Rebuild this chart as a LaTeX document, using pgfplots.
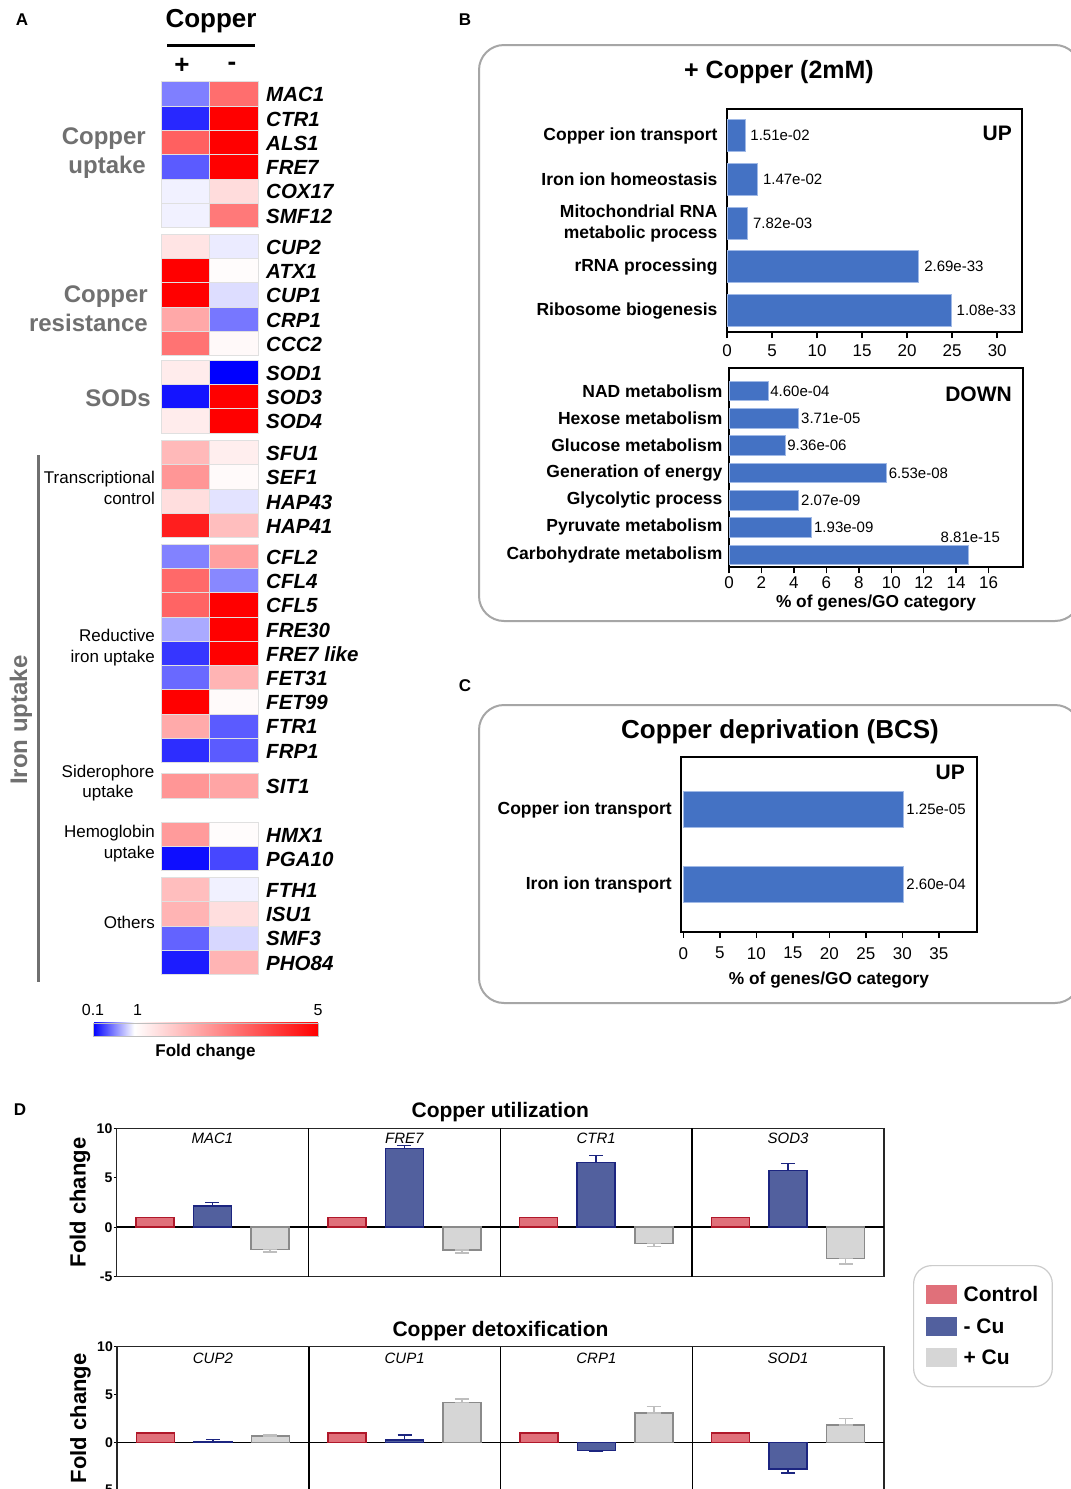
\documentclass[border=0pt]{standalone}
\usepackage{fontspec}
\setmainfont{Liberation Sans}
\usepackage{pgfplots}
\pgfplotsset{compat=1.18}
\pgfkeys{/pgf/number format/assume math mode=true}
\newcommand{\fs}[2]{\fontsize{#1}{#2}\selectfont}
\definecolor{gtxt}{RGB}{112,112,112}
\definecolor{barblue}{RGB}{68,114,196}
\definecolor{barblueE}{RGB}{160,185,230}
\definecolor{ctlF}{RGB}{224,112,122}
\definecolor{ctlD}{RGB}{176,24,42}
\definecolor{cuF}{RGB}{82,96,158}
\definecolor{cuD}{RGB}{28,37,128}
\definecolor{pcuF}{RGB}{214,214,214}
\definecolor{pcuD}{RGB}{138,138,138}
\definecolor{pcuE}{RGB}{190,190,190}
\pgfplotsset{colormap={bwr}{rgb255(0cm)=(0,0,255); rgb255(9cm)=(255,255,255); rgb255(49cm)=(255,0,0)}}
\pgfdeclareplotmark{hcell}{\pgfpathrectangle{\pgfpoint{-24.25pt}{-12.15pt}}{\pgfpoint{48.5pt}{24.3pt}}\pgfusepathqfillstroke}
\pgfplotsset{
  goaxis/.style={scale only axis, anchor=north west, xbar, bar shift=0pt, y dir=reverse,
    axis line style={line width=2pt},
    xtick pos=lower, ytick pos=left, tick align=outside, major tick length=6pt,
    tick style={line width=1.5pt, black}, ytick style={draw=none},
    yticklabel style={font=\bfseries\fs{17.5}{21}, align=right},
    xticklabel style={font=\fs{17}{20}},
    xlabel style={font=\bfseries\fs{17.3}{20}, at={(axis description cs:0.5,0)}, anchor=center},
    nodes near coords, point meta=explicit symbolic,
    nodes near coords align={horizontal},
    every node near coord/.append style={font=\fs{15}{18}, anchor=west},
  },
  gobar/.style={fill=barblue, draw=barblueE, line width=0.8pt},
  daxis/.style={scale only axis, anchor=north west, ybar, bar width=38pt, bar shift=0pt,
    xmin=0, xmax=20, ymin=-5, ymax=10, clip=false,
    xtick=\empty, ytick={-5,0,5,10}, ytick pos=left, tick align=outside, major tick length=3pt,
    tick style={line width=1.2pt, black},
    yticklabel style={font=\bfseries\fs{14}{16}, inner xsep=1pt},
    axis line style={line width=1.5pt, black!85},
    extra x ticks={5,10,15}, extra x tick labels={},
    extra x tick style={grid=major, major grid style={line width=1.5pt, black}, major tick length=0pt},
    extra y ticks={0}, extra y tick labels={},
    extra y tick style={grid=major, major grid style={line width=1.5pt, black}, major tick length=0pt},
    ylabel={Fold change},
    ylabel style={font=\bfseries\fs{22}{26}, at={(axis description cs:-0.0476,0.5)}, anchor=center},
    title style={at={(axis description cs:0.5,1)}, anchor=base, font=\bfseries\fs{21}{25}},
  },
  sw/.style={legend image code/.code={\path[##1, draw=none, sharp corners] (0pt,-9.5pt) rectangle (31pt,9.5pt);}},
  ctl/.style={fill=ctlF, draw=ctlD, line width=1.5pt, sw},
  mcu/.style={fill=cuF, draw=cuD, line width=1.5pt, sw,
    error bars/.cd, y dir=both, y explicit,
    error bar style={line width=1.5pt, cuD},
    error mark options={rotate=90, mark size=7pt, line width=1.5pt, cuD}},
  pcu/.style={fill=pcuF, draw=pcuD, line width=1.5pt, sw,
    error bars/.cd, y dir=both, y explicit,
    error bar style={line width=1.5pt, pcuE},
    error mark options={rotate=90, mark size=7pt, line width=1.5pt, pcuE}},
}
\begin{document}
\begin{tikzpicture}
\useasboundingbox (0pt,0pt) rectangle (1071pt,-1489pt);
\fill[white] (0pt,0pt) rectangle (1071pt,-1489pt);

% ---------- panel letters ----------
\node[font=\bfseries\fs{17}{20}] at (22pt,-20pt) {A};
\node[font=\bfseries\fs{17}{20}] at (465pt,-20pt) {B};
\node[font=\bfseries\fs{17}{20}] at (465pt,-686pt) {C};
\node[font=\bfseries\fs{17}{20}] at (20pt,-1110pt) {D};

% ---------- panel A ----------
\node[font=\bfseries\fs{26}{30}] at (211pt,-21pt) {Copper};
\draw[line width=3pt] (167pt,-45pt) -- (255pt,-45pt);
\node[font=\bfseries\fs{26}{30}] at (182pt,-66pt) {+};
\node[font=\bfseries\fs{26}{30}] at (232pt,-66pt) {-};

\begin{axis}[
  at={(160.7pt,-81.7pt)}, anchor=north west, scale only axis,
  width=97pt, height=892.6pt, clip=false,
  xmin=0, xmax=2, ymin=81.7, ymax=974.3, y dir=reverse,
  axis line style={draw=none}, xtick=\empty,
  ytick={93.8,118.1,142.4,166.7,190.9,215.2,246.4,270.6,294.8,319.0,343.2,372.2,396.5,420.8,452.5,476.8,501.1,525.4,556.4,580.6,604.8,629.0,653.3,677.5,701.7,725.9,750.2,785.7,834.3,858.3,889.4,913.7,937.9,962.2},
  yticklabels={MAC1,CTR1,ALS1,FRE7,COX17,SMF12,CUP2,ATX1,CUP1,CRP1,CCC2,SOD1,SOD3,SOD4,SFU1,SEF1,HAP43,HAP41,CFL2,CFL4,CFL5,FRE30,FRE7 like,FET31,FET99,FTR1,FRP1,SIT1,HMX1,PGA10,FTH1,ISU1,SMF3,PHO84},
  yticklabel pos=right, ytick style={draw=none}, major tick length=0pt,
  yticklabel style={font=\bfseries\itshape\fs{20.5}{24}, anchor=west, xshift=5pt, yshift=-1pt},
  colormap name=bwr, point meta min=0.1, point meta max=5,
  colorbar horizontal,
  colorbar style={at={(parent axis.south west)}, anchor=north west, xshift=-67.7pt, yshift=-40pt,
    scale only axis, width=225pt, height=13.3pt,
    xtick={0.1,1.07,5}, xticklabels={0.1,1,5}, xticklabel pos=upper, major tick length=0pt,
    xticklabel style={font=\fs{16}{19}, yshift=4pt},
    xlabel={Fold change}, xlabel style={at={(axis description cs:0.5,0)}, anchor=north, yshift=-4pt, font=\bfseries\fs{17}{20}},
    axis line style={draw=black!25}},
]
\addplot[scatter, only marks, mark=hcell, point meta=explicit,
  scatter/use mapped color={draw=black!12, fill=mapped color}]
  table[x=c, y=r, meta=fc] {
c r fc
0.5 93.8 0.55
1.5 93.8 3.27
0.5 118.1 0.24
1.5 118.1 5
0.5 142.4 3.5
1.5 142.4 5
0.5 166.7 0.42
1.5 166.7 5
0.5 190.9 0.95
1.5 190.9 1.55
0.5 215.2 0.95
1.5 215.2 3.1
0.5 246.4 1.42
1.5 246.4 0.93
0.5 270.6 5
1.5 270.6 1.05
0.5 294.8 5
1.5 294.8 0.88
0.5 319.0 2.36
1.5 319.0 0.52
0.5 343.2 3.2
1.5 343.2 1.1
0.5 372.2 1.3
1.5 372.2 0.1
0.5 396.5 0.17
1.5 396.5 5
0.5 420.8 1.3
1.5 420.8 5
0.5 452.5 2.1
1.5 452.5 1.27
0.5 476.8 2.65
1.5 476.8 1.08
0.5 501.1 1.52
1.5 501.1 0.9
0.5 525.4 4.53
1.5 525.4 2.02
0.5 556.4 0.56
1.5 556.4 2.49
0.5 580.6 3.35
1.5 580.6 0.58
0.5 604.8 3.43
1.5 604.8 5
0.5 629.0 0.7
1.5 629.0 5
0.5 653.3 0.29
1.5 653.3 5
0.5 677.5 0.47
1.5 677.5 2.18
0.5 701.7 5
1.5 701.7 1.08
0.5 725.9 2.33
1.5 725.9 0.42
0.5 750.2 0.26
1.5 750.2 0.42
0.5 785.7 2.65
1.5 785.7 2.41
0.5 834.3 2.57
1.5 834.3 1.05
0.5 858.3 0.15
1.5 858.3 0.35
0.5 889.4 2.02
1.5 889.4 0.95
0.5 913.7 2.18
1.5 913.7 1.52
0.5 937.9 0.45
1.5 937.9 0.86
0.5 962.2 0.2
1.5 962.2 2.18
};
\end{axis}

\node[anchor=east, align=right, font=\bfseries\fs{24}{29}, text=gtxt, inner sep=0pt] at (146pt,-153.5pt) {Copper\\uptake};
\node[anchor=east, align=right, font=\bfseries\fs{24}{29}, text=gtxt, inner sep=0pt] at (148pt,-308.5pt) {Copper\\resistance};
\node[anchor=east, align=right, font=\bfseries\fs{24}{29}, text=gtxt, inner sep=0pt] at (151pt,-398pt) {SODs};
\node[anchor=east, align=right, font=\fs{17}{21}, inner sep=0pt] at (155pt,-487.5pt) {Transcriptional\\control};
\node[anchor=east, align=right, font=\fs{17}{21}, inner sep=0pt] at (155pt,-647.5pt) {Reductive\\iron uptake};
\node[align=center, font=\fs{17}{20.5}, inner sep=0pt] at (108pt,-783pt) {Siderophore\\uptake};
\node[anchor=east, align=right, font=\fs{17}{21}, inner sep=0pt] at (155pt,-843.5pt) {Hemoglobin\\uptake};
\node[anchor=east, align=right, font=\fs{17}{21}, inner sep=0pt] at (155pt,-922pt) {Others};
\draw[line width=3pt, gtxt] (38pt,-455pt) -- (38pt,-982pt);
\node[rotate=90, font=\bfseries\fs{24}{28}, text=gtxt, inner sep=0pt] at (21pt,-720pt) {Iron uptake};

% ---------- panel B ----------
\draw[rounded corners=25pt, line width=2pt, black!35] (479pt,-45pt) rectangle (1080pt,-621pt);
\node[font=\bfseries\fs{25}{30}] at (779pt,-72pt) {+ Copper (2mM)};

\begin{axis}[goaxis, at={(727pt,-109pt)}, width=295pt, height=223pt, bar width=32pt,
  xmin=0, xmax=32.75, ymin=-0.606, ymax=4.49,
  xtick={0,5,...,30}, ytick={0,...,4},
  xticklabel style={yshift=-3pt},
  yticklabels={Copper ion transport, Iron ion homeostasis, {Mitochondrial RNA\\metabolic process}, rRNA processing, Ribosome biogenesis},
  every node near coord/.append style={inner xsep=5pt}]
\addplot[gobar] table[x=v, y=c, meta=lab] {
c v lab
0 2.0 1.51e-02
1 3.4 1.47e-02
2 2.3 7.82e-03
3 21.3 2.69e-33
4 24.9 1.08e-33
};
\end{axis}
\node[anchor=east, font=\bfseries\fs{21}{25}, inner sep=0pt] at (1012pt,-133pt) {UP};

\begin{axis}[goaxis, at={(729pt,-368.3pt)}, width=294pt, height=199pt, bar width=19.5pt,
  xmin=0, xmax=18.12, ymin=-0.83, ymax=6.46,
  xtick={0,2,...,16}, ytick={0,...,6},
  yticklabel style={xshift=3pt},
  yticklabels={NAD metabolism, Hexose metabolism, Glucose metabolism, Generation of energy, Glycolytic process, Pyruvate metabolism, Carbohydrate metabolism},
  xlabel={\% of genes/GO category}, xlabel style={yshift=-35.7pt},
  every node near coord/.append style={inner xsep=2pt}]
\addplot[gobar] table[x=v, y=c, meta=lab] {
c v lab
0 2.4 4.60e-04
1 4.3 3.71e-05
2 3.45 9.36e-06
3 9.7 6.53e-08
4 4.3 2.07e-09
5 5.1 1.93e-09
};
\addplot[gobar, every node near coord/.append style={anchor=center, xshift=2pt, yshift=17.7pt}] table[x=v, y=c, meta=lab] {
c v lab
6 14.75 8.81e-15
};
\end{axis}
\node[anchor=east, font=\bfseries\fs{21}{25}, inner sep=0pt] at (1012pt,-394pt) {DOWN};

% ---------- panel C ----------
\draw[rounded corners=25pt, line width=2pt, black!35] (479pt,-705pt) rectangle (1080pt,-1003pt);
\node[font=\bfseries\fs{26}{31}] at (780pt,-732pt) {Copper deprivation (BCS)};
\begin{axis}[goaxis, at={(681.2pt,-757.3pt)}, width=295.5pt, height=174.4pt, bar width=36pt,
  xmin=-0.3, xmax=40.2, ymin=-0.699, ymax=1.627,
  xtick={0,5,...,35}, ytick={0,1},
  xticklabel style={yshift=-6pt},
  yticklabels={Copper ion transport, Iron ion transport},
  xlabel={\% of genes/GO category}, xlabel style={yshift=-48.3pt},
  every node near coord/.append style={inner xsep=3pt}]
\addplot[gobar] table[x=v, y=c, meta=lab] {
c v lab
0 30.1 1.25e-05
1 30.1 2.60e-04
};
\end{axis}
\node[anchor=east, font=\bfseries\fs{21}{25}, inner sep=0pt] at (965pt,-772pt) {UP};

% ---------- panel D ----------
\begin{axis}[daxis, at={(116.5pt,-1128.3pt)}, width=767.5pt, height=148.4pt,
  title={Copper utilization}, title style={yshift=5pt},
  legend style={at={(1.0378,0.0788)}, anchor=north west, draw=black!20, line width=1.2pt,
    rounded corners=18pt, font=\bfseries\fs{21}{25}, inner xsep=12pt, inner ysep=19pt,
    row sep=11pt, nodes={inner sep=2pt}, /tikz/every odd column/.append style={column sep=5pt}},
  legend cell align=left]
\addplot[ctl] coordinates {(1,1) (6,1) (11,1) (16,1)};
\addplot[mcu] table[x=x, y=y, y error plus=ep, y error minus=em] {
x y ep em
2.5 2.16 0.34 0
7.5 7.95 0.30 0
12.5 6.56 0.71 0
17.5 5.75 0.71 0
};
\addplot[pcu] table[x=x, y=y, y error plus=ep, y error minus=em] {
x y ep em
4 -2.23 0 0.25
9 -2.30 0 0.28
14 -1.66 0 0.31
19 -3.15 0 0.58
};
\legend{Control, - Cu, + Cu}
\node[font=\itshape\fs{15}{18}] at (axis cs:2.5,9.0) {MAC1};
\node[font=\itshape\fs{15}{18}] at (axis cs:7.5,9.0) {FRE7};
\node[font=\itshape\fs{15}{18}] at (axis cs:12.5,9.0) {CTR1};
\node[font=\itshape\fs{15}{18}] at (axis cs:17.5,9.0) {SOD3};
\end{axis}

\begin{axis}[daxis, at={(117pt,-1346.7pt)}, width=767pt, height=143.4pt,
  title={Copper detoxification}, title style={yshift=4pt}]
\addplot[ctl] coordinates {(1,1) (6,1) (11,1) (16,1)};
\addplot[mcu] table[x=x, y=y, y error plus=ep, y error minus=em] {
x y ep em
2.5 0.10 0.20 0
7.5 0.24 0.52 0
12.5 -0.83 0 0.15
17.5 -2.81 0 0.42
};
\addplot[pcu] table[x=x, y=y, y error plus=ep, y error minus=em] {
x y ep em
4 0.65 0.15 0
9 4.17 0.38 0
14 3.05 0.70 0
19 1.80 0.70 0
};
\node[font=\itshape\fs{15}{18}] at (axis cs:2.5,8.8) {CUP2};
\node[font=\itshape\fs{15}{18}] at (axis cs:7.5,8.8) {CUP1};
\node[font=\itshape\fs{15}{18}] at (axis cs:12.5,8.8) {CRP1};
\node[font=\itshape\fs{15}{18}] at (axis cs:17.5,8.8) {SOD1};
\end{axis}
\end{tikzpicture}
\end{document}
